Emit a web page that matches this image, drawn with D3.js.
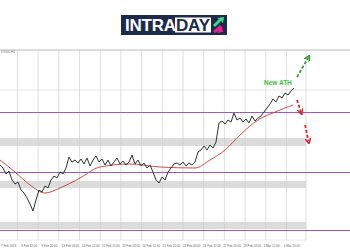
<!DOCTYPE html>
<html>
<head>
<meta charset="utf-8">
<script src="https://cdn.jsdelivr.net/npm/d3@7"></script>
<style>
  body { margin: 0; background: #fff; }
  svg { display: block; font-family: "Liberation Sans", Arial, sans-serif; }
</style>
</head>
<body>
<svg id="canvas" width="350" height="250"></svg>
<script>
// price bars (close), one every bar index
const prices = [
  2650, 2644, 2632, 2638, 2620, 2612, 2616, 2600, 2594, 2584,
  2572, 2558, 2580, 2600, 2596, 2608, 2604, 2620, 2628, 2624,
  2636, 2632, 2644, 2666, 2656, 2660, 2654, 2662, 2652, 2664,
  2648, 2660, 2668, 2656, 2662, 2650, 2660, 2648, 2656, 2664,
  2652, 2658, 2650, 2656, 2670, 2652, 2660, 2648, 2654, 2644,
  2650, 2636, 2620, 2614, 2626, 2620, 2636, 2644, 2652, 2654,
  2650, 2656, 2648, 2654, 2650, 2656, 2676, 2680, 2688, 2680,
  2690, 2684, 2696, 2734, 2738, 2732, 2740, 2736, 2754, 2740,
  2744, 2736, 2742, 2734, 2748, 2738, 2744, 2748, 2756, 2764,
  2772, 2782, 2776, 2788, 2784, 2794, 2790, 2798, 2804
];

// moving average, sparse points
const maIndex = [0, 5, 10, 15, 20, 26.7, 33.3, 43.3, 53.3, 65, 70, 75, 80, 86, 91.7, 97.7];
const maValues = [2660, 2636, 2610, 2594, 2604, 2624, 2646, 2652, 2646, 2644, 2660, 2680, 2710, 2740, 2756, 2770];

const resistLevels = [2755, 2635, 2519];
const zones = [[2688, 2704], [2604, 2618], [2522, 2536]];
const gridPrices = [2800];

const tickIndex = [5.8, 12.7, 19.6, 26.5, 33.4, 40.3, 47.2, 54.1, 61, 67.9, 74.8, 81.7, 88.6, 95.5, 102];
const tickLabels = [
  '7 Feb 2024', '8 Feb 12:00', '9 Feb 20:00', '13 Feb 04:00', '14 Feb 12:00',
  '15 Feb 20:00', '19 Feb 04:00', '20 Feb 12:00', '21 Feb 20:00', '23 Feb 04:00',
  '26 Feb 12:00', '27 Feb 20:00', '29 Feb 04:00', '1 Mar 12:00', '4 Mar 20:00'
];

const upArrow = [[99, 2826], [102.7, 2864]];
const downArrows = [
  [[99, 2780], [100.3, 2756]],
  [[101.7, 2730], [102.8, 2698]]
];
const athLabel = { text: 'New ATH', i: 88, price: 2810 };

const svg = d3.select('#canvas');

// logo
const logo = svg.append('g');
logo.append('rect').attr('x', 121).attr('y', 15).attr('width', 106).attr('height', 20).attr('fill', '#1c2a4c');
logo.append('rect').attr('x', 175).attr('y', 17.5).attr('width', 36).attr('height', 15).attr('fill', '#fff');
logo.append('text').attr('x', 125).attr('y', 31).attr('fill', '#fff')
  .attr('font-size', 17).attr('font-weight', 'bold').attr('textLength', 51).text('INTRA');
logo.append('text').attr('x', 176).attr('y', 31).attr('fill', '#1c2a4c')
  .attr('font-size', 17).attr('font-weight', 'bold').attr('textLength', 34).text('DAY');
logo.append('path').attr('d', 'M213,25 L219,19 L217,18 L224,17 L223,23 L221,21 L215,27 Z').attr('fill', '#3ddc84');
logo.append('path').attr('d', 'M213,31 L220,25 L222,27 L223,32 L217,33 L219,31 L215,33 Z').attr('fill', '#e8208f');

const x = d3.scaleLinear().domain([0, 102]).range([0, 306]);
const y = d3.scaleLinear().domain([2500, 2880]).range([240, 50]);

// frame
svg.append('line').attr('x1', 0).attr('x2', 350).attr('y1', 50).attr('y2', 50)
  .attr('stroke', '#a8a8a8').attr('stroke-width', 0.8);
svg.append('text').attr('x', 1).attr('y', 53).attr('font-size', 3).attr('fill', '#777').text('US500,H4');

// zones
svg.selectAll('rect.zone')
  .data(zones)
  .enter()
  .append('rect')
  .attr('class', 'zone')
  .attr('x', x(0))
  .attr('width', x(102) - x(0))
  .attr('y', d => y(d[1]))
  .attr('height', d => y(d[0]) - y(d[1]))
  .attr('fill', '#dcdcdc');

// grid
svg.selectAll('line.vgrid')
  .data(tickIndex)
  .enter()
  .append('line')
  .attr('class', 'vgrid')
  .attr('x1', d => x(d)).attr('x2', d => x(d))
  .attr('y1', 50).attr('y2', 240)
  .attr('stroke', '#c8c8c8').attr('stroke-width', 0.6);

svg.selectAll('line.hgrid')
  .data(gridPrices)
  .enter()
  .append('line')
  .attr('class', 'hgrid')
  .attr('x1', x(0)).attr('x2', 350)
  .attr('y1', d => y(d)).attr('y2', d => y(d))
  .attr('stroke', '#d4d4d4').attr('stroke-width', 0.6);

svg.append('line').attr('x1', 0).attr('x2', x(102)).attr('y1', 240).attr('y2', 240)
  .attr('stroke', '#d0d0d0').attr('stroke-width', 0.5);

// purple levels
svg.selectAll('line.level')
  .data(resistLevels)
  .enter()
  .append('line')
  .attr('class', 'level')
  .attr('x1', 0).attr('x2', 350)
  .attr('y1', d => y(d)).attr('y2', d => y(d))
  .attr('stroke', '#a257c2').attr('stroke-width', 1);

// tick labels
svg.selectAll('text.tick')
  .data(tickLabels)
  .enter()
  .append('text')
  .attr('class', 'tick')
  .attr('x', (d, i) => 1 + i * 20.2)
  .attr('y', 246.5)
  .attr('font-size', 3)
  .attr('fill', '#666')
  .text(d => d);

// moving average
const maLine = d3.line()
  .x(d => x(d[0]))
  .y(d => y(d[1]))
  .curve(d3.curveMonotoneX);
svg.append('path')
  .datum(maIndex.map((d, i) => [d, maValues[i]]))
  .attr('d', maLine)
  .attr('fill', 'none')
  .attr('stroke', '#c8383a')
  .attr('stroke-width', 0.9);

// price
const priceLine = d3.line()
  .x((d, i) => x(i))
  .y(d => y(d));
svg.append('path')
  .datum(prices)
  .attr('d', priceLine)
  .attr('fill', 'none')
  .attr('stroke', '#2e352e')
  .attr('stroke-width', 1);

// arrows
const defs = svg.append('defs');
[['up', '#2f9a34'], ['down', '#d8262a']].forEach(([id, col]) => {
  defs.append('marker')
    .attr('id', 'arr-' + id)
    .attr('viewBox', '0 0 6 6')
    .attr('refX', 3).attr('refY', 3)
    .attr('markerWidth', 3.2).attr('markerHeight', 3.2)
    .attr('orient', 'auto')
    .append('path')
    .attr('d', 'M0,0 L6,3 L0,6')
    .attr('fill', 'none')
    .attr('stroke', col)
    .attr('stroke-width', 1.6);
});

const seg = d3.line().x(d => x(d[0])).y(d => y(d[1]));

svg.append('path')
  .datum(upArrow)
  .attr('d', seg)
  .attr('stroke', '#2f9a34')
  .attr('stroke-width', 1.8)
  .attr('stroke-dasharray', '3,2')
  .attr('marker-end', 'url(#arr-up)');

svg.selectAll('path.down')
  .data(downArrows)
  .enter()
  .append('path')
  .attr('class', 'down')
  .attr('d', seg)
  .attr('stroke', '#d8262a')
  .attr('stroke-width', 1.8)
  .attr('stroke-dasharray', '3,2')
  .attr('marker-end', 'url(#arr-down)');

svg.append('text')
  .attr('x', x(athLabel.i))
  .attr('y', y(athLabel.price))
  .attr('font-size', 6.5)
  .attr('font-weight', 'bold')
  .attr('fill', '#3cbf40')
  .text(athLabel.text);
</script>
</body>
</html>
